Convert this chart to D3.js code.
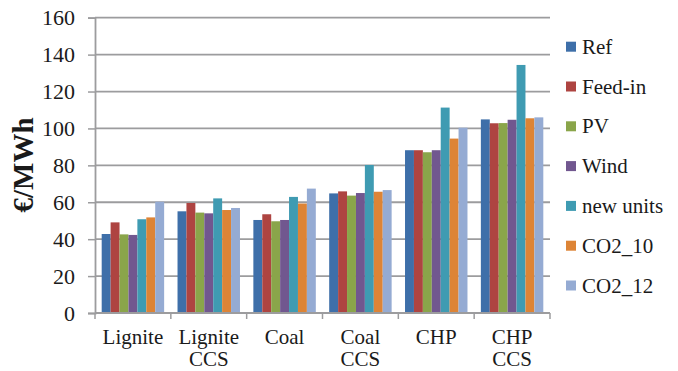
<!DOCTYPE html>
<html><head><meta charset="utf-8">
<script src="https://cdn.jsdelivr.net/npm/d3@7"></script>
<style>body{margin:0;background:#fff}svg{display:block}text{font-family:"Liberation Serif","Times New Roman",serif;fill:#1a1a1a}</style>
</head><body><svg id="c" width="678" height="371"></svg>
<script>
const categories = [["Lignite"],["Lignite","CCS"],["Coal"],["Coal","CCS"],["CHP"],["CHP","CCS"]];
const seriesNames = ["Ref","Feed-in","PV","Wind","new units","CO2_10","CO2_12"];
const seriesColors = ["#3e6fa9","#ae4441","#8aa54a","#71578f","#3f9bb2","#dd8436","#95abd3"];
const ref      = [42.8, 55.1, 50.4, 64.8, 88.2, 104.9];
const feedIn   = [49.1, 59.6, 53.5, 65.9, 88.2, 102.8];
const pv       = [42.6, 54.4, 49.7, 63.6, 87.1, 102.9];
const wind     = [42.3, 54.0, 50.4, 65.0, 88.2, 104.7];
const newUnits = [50.8, 62.1, 62.9, 80.2, 111.3, 134.4];
const co2_10   = [51.8, 55.8, 59.3, 65.7, 94.5, 105.5];
const co2_12   = [60.3, 56.9, 67.4, 66.6, 100.4, 106.0];
const yTicks = [0,20,40,60,80,100,120,140,160];

const series = [ref, feedIn, pv, wind, newUnits, co2_10, co2_12];
const svg = d3.select("#c");
const L = 95, R = 550, T = 17.7, B = 313;
const x = d3.scaleBand().domain(d3.range(categories.length)).range([L, R]).paddingInner(0).paddingOuter(0);
const bw = x.bandwidth() / 8.5;
const xi = d3.scaleBand().domain(d3.range(seriesNames.length)).range([0.75*bw, x.bandwidth()-0.75*bw]);
const y = d3.scaleLinear().domain([0,160]).range([B, T]);
const gridColor = "#9c9c9e";

// gridlines
svg.append("g").selectAll("line").data(yTicks).join("line")
  .attr("x1", L).attr("x2", R).attr("y1", d=>y(d)).attr("y2", d=>y(d))
  .attr("stroke", gridColor).attr("stroke-width", 1.8);

// y axis
const yAxis = svg.append("g").attr("transform", `translate(${L},0)`)
  .call(d3.axisLeft(y).tickValues(yTicks).tickSize(7).tickPadding(13));
yAxis.select(".domain").attr("stroke", gridColor).attr("stroke-width", 1.8);
yAxis.selectAll(".tick line").attr("stroke", gridColor).attr("stroke-width", 1.5);
yAxis.selectAll(".tick text").attr("font-size", 22).attr("font-family", "Liberation Serif").attr("fill", "#1a1a1a");

// bars
const gs = svg.append("g").selectAll("g").data(series).join("g").attr("fill", (d,i)=>seriesColors[i]);
gs.each(function(vals, si){
  d3.select(this).selectAll("rect").data(vals).join("rect")
    .attr("x", (v,ci)=>x(ci)+xi(si)).attr("width", xi.bandwidth())
    .attr("y", v=>y(v)).attr("height", v=>B-y(v));
});

// x axis
const xAxisG = svg.append("g").attr("transform", `translate(0,${B})`);
xAxisG.append("line").attr("x1", L).attr("x2", R).attr("stroke", gridColor).attr("stroke-width", 1.8);
const bounds = d3.range(categories.length+1).map(i => i < categories.length ? x(i) : R);
xAxisG.selectAll("line.t").data(bounds).join("line").attr("class","t")
  .attr("x1", d=>d).attr("x2", d=>d).attr("y1", 0).attr("y2", 6)
  .attr("stroke", gridColor).attr("stroke-width", 1.5);
const cl = xAxisG.selectAll("text").data(categories).join("text")
  .attr("text-anchor", "middle").attr("font-size", 21)
  .attr("transform", (d,i)=>`translate(${x(i)+x.bandwidth()/2},0)`);
cl.selectAll("tspan").data(d=>d).join("tspan")
  .attr("x", 0).attr("y", (d,j)=>31 + j*22).text(d=>d);

// y title
svg.append("text").attr("transform", "translate(33,165) rotate(-90)")
  .attr("text-anchor", "middle").attr("font-size", 29).attr("font-weight", "bold").text("€/MWh");

// legend
const lg = svg.append("g").selectAll("g").data(seriesNames).join("g")
  .attr("transform", (d,i)=>`translate(566,${46.7 + i*39.8})`);
lg.append("rect").attr("x", 0).attr("y", -5).attr("width", 10).attr("height", 10).attr("fill", (d,i)=>seriesColors[i]);
lg.append("text").attr("x", 16).attr("y", 7).attr("font-size", 21).text(d=>d);
</script></body></html>
